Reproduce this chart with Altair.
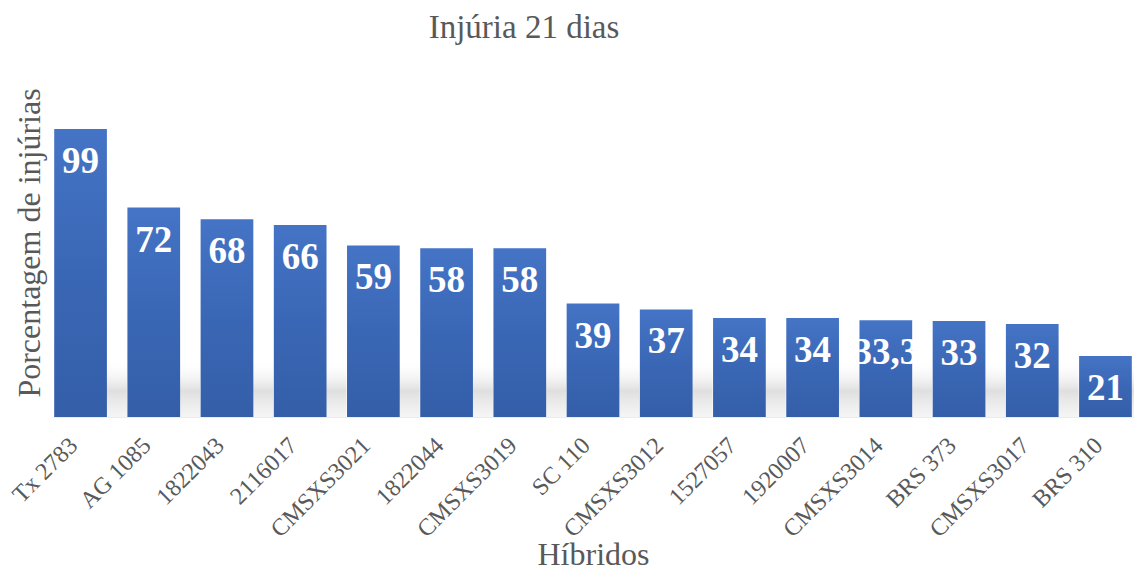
import altair as alt
import pandas as pd

hibridos = ["Tx 2783", "AG 1085", "1822043", "2116017", "CMSXS3021", "1822044",
            "CMSXS3019", "SC 110", "CMSXS3012", "1527057", "1920007", "CMSXS3014",
            "BRS 373", "CMSXS3017", "BRS 310"]
valores = [99, 72, 68, 66, 59, 58, 58, 39, 37, 34, 34, 33.3, 33, 32, 21]
rotulos = ["99", "72", "68", "66", "59", "58", "58", "39", "37", "34", "34",
           "33,3", "33", "32", "21"]

df = pd.DataFrame({"h": hibridos, "v": valores, "r": rotulos})

FONT = "Liberation Serif"
GRAY = "#595959"

x = alt.X("h:N", sort=None, title="Híbridos",
          scale=alt.Scale(paddingInner=0.28, paddingOuter=0.03),
          axis=alt.Axis(labelAngle=-45, labelFontSize=24, labelColor=GRAY,
                        labelFont=FONT, titleFont=FONT, titleFontSize=32,
                        titleColor=GRAY, titleFontWeight="normal", ticks=False,
                        domain=True, domainColor="#ececec", labelPadding=16,
                        labelOffset=-15, titlePadding=-2))
y = alt.Y("v:Q", title="Porcentagem de injúrias",
          scale=alt.Scale(domain=[0, 120]),
          axis=alt.Axis(labels=False, ticks=False, domain=False, grid=False,
                        titleFont=FONT, titleFontSize=32, titleColor=GRAY,
                        titleFontWeight="normal", titlePadding=6))

base = alt.Chart(df)

shadow = base.mark_bar(
    xOffset=20, clip=True,
    color=alt.Gradient(gradient="linear", x1=0, y1=0, x2=0, y2=1,
                       stops=[alt.GradientStop(color="rgba(255,255,255,0)", offset=0),
                              alt.GradientStop(color="rgba(175,175,175,0.4)", offset=0.55),
                              alt.GradientStop(color="rgba(215,215,215,0.25)", offset=1)])
).encode(x=x, y=alt.datum(20), y2=alt.datum(0))

bars = base.mark_bar(
    color=alt.Gradient(gradient="linear", x1=0, y1=0, x2=0, y2=1,
                       stops=[alt.GradientStop(color="#4574C6", offset=0),
                              alt.GradientStop(color="#3A67B5", offset=0.5),
                              alt.GradientStop(color="#345EA8", offset=1)])
).encode(x=x, y=y)

labels = base.mark_text(
    font=FONT, fontSize=37, fontWeight="bold", color="white",
    baseline="middle", dy=33
).encode(x=x, y=y, text="r:N")

chart = alt.layer(shadow, bars, labels).properties(
    width=1082, height=349,
    padding={"left": 0, "top": 4, "right": 0, "bottom": 0},
    title=alt.TitleParams("Injúria 21 dias", font=FONT, fontSize=33,
                          color=GRAY, fontWeight="normal", dx=-69, offset=23)
).configure_view(strokeWidth=0)

chart.save("out.html", embed_options={"renderer": "svg", "actions": False})
